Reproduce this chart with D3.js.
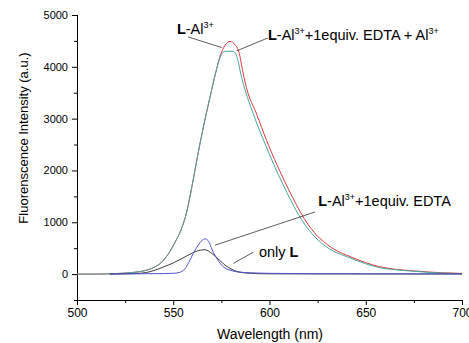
<!DOCTYPE html>
<html><head><meta charset="utf-8">
<script src="https://cdn.jsdelivr.net/npm/d3@7"></script>
<style>body{margin:0;background:#fff}svg{display:block}text{font-family:"Liberation Sans",Arial,sans-serif;fill:#000}</style>
</head><body><svg id="c" width="469" height="343"></svg>
<script>
// Data (wavelength nm, intensity a.u.)
const redWl  = [500,510,520,530,535,540,544,548,551,554,557,560,563,566,569,572,574.3,577,579.5,582,584,586.4,588,593.3,598.5,604,608,612,616,620,624,628,632,636,640,645,650,657,665,675,683,690,700];
const redVal = [0,0,10,35,65,130,230,420,620,850,1200,1750,2350,2900,3400,3880,4200,4420,4490,4430,4300,3860,3600,3090,2577,2100,1780,1480,1200,960,770,630,515,430,365,290,220,145,95,62,40,25,12];
const tealWl  = [500,510,520,530,535,540,544,548,551,554,557,560,563,566,569,572,574.3,577,581,583,585.5,591.6,597.7,603,607,611,615,619,623,627,631,635,640,645,650,657,665,675,683,690,700];
const tealVal = [0,0,10,35,65,130,230,420,620,850,1200,1750,2350,2900,3400,3880,4180,4300,4300,4200,3795,3090,2513,2050,1730,1430,1150,920,740,600,490,410,340,265,200,125,85,55,32,20,8];
const blueWl  = [517,530,545,550,553,556,558,560.4,563,565,566.5,568,570.8,573,576,580,583,590,600,620,650,700];
const blueVal = [0,5,10,15,30,100,220,400,560,650,680,650,420,280,140,70,45,25,15,8,5,3];
const blackWl  = [517,530,536,540,545,550,554,558,562,566.5,570,574,577,580,584,590,600,650,700];
const blackVal = [0,10,30,70,140,215,290,370,440,470,400,270,170,100,40,15,5,3,2];
const xTicks = [500,550,600,650,700];
const yTicks = [0,1000,2000,3000,4000,5000];

const svg = d3.select("#c");
const x = d3.scaleLinear().domain([500,700]).range([77,462]);
const y = d3.scaleLinear().domain([-500,5000]).range([300,15]);

// axes
const xAxis = d3.axisBottom(x).tickValues(xTicks).tickFormat(d3.format("d")).tickSize(5).tickPadding(3);
const gx = svg.append("g").attr("transform","translate(0,300)").call(xAxis);
gx.selectAll(".tick text").style("font-size","12px").style("font-family","Liberation Sans, Arial, sans-serif");
svg.append("g").attr("transform","translate(0,300)")
  .call(d3.axisBottom(x).tickValues(d3.range(525,700,50)).tickFormat("").tickSize(3))
  .select(".domain").remove();
const yAxis = d3.axisLeft(y).tickValues(yTicks).tickFormat(d3.format("d")).tickSize(5).tickPadding(4);
const gy = svg.append("g").attr("transform","translate(77,0)").call(yAxis);
gy.selectAll(".tick text").style("font-size","11px").style("font-family","Liberation Sans, Arial, sans-serif");
svg.append("g").attr("transform","translate(77,0)")
  .call(d3.axisLeft(y).tickValues(d3.range(-500,5000,1000)).tickFormat("").tickSize(3))
  .select(".domain").remove();
gx.select(".domain").attr("d","M77,0.5H462");
gy.select(".domain").attr("d","M0.5,15V300");

svg.append("text").attr("x",270).attr("y",339).attr("text-anchor","middle").style("font-size","14px").text("Wavelength (nm)");
svg.append("text").attr("transform","translate(28,138) rotate(-90)").attr("text-anchor","middle").style("font-size","13px").text("Fluorenscence Intensity (a.u.)");

// lines
const line = d3.line().x(d=>x(d[0])).y(d=>y(d[1])).curve(d3.curveMonotoneX);
const series = [
  [redWl, redVal, "#e5383c"],
  [tealWl, tealVal, "#43a6a2"],
  [blackWl, blackVal, "#3c3c3c"],
  [blueWl, blueVal, "#5252cc"]
];
series.forEach(([w,v,c]) => {
  svg.append("path").datum(d3.zip(w,v)).attr("fill","none").attr("stroke",c).attr("stroke-width",1).attr("d",line);
});

// annotations (positions in data units)
const annText = [
  {wl:551.9, v:4635, parts:[["L",true],["-Al",false],["3+","sup"]]},
  {wl:599.2, v:4519, parts:[["L",true],["-Al",false],["3+","sup"],["+1equiv. EDTA + Al",false],["3+","sup"]]},
  {wl:625.3, v:1308, parts:[["L",true],["-Al",false],["3+","sup"],["+1equiv. EDTA",false]]},
  {wl:594.5, v:327, parts:[["only ",false],["L",true]]}
];
const annLines = [
  [557.7,4577,575.2,4371],
  [599.2,4558,583.0,4308],
  [623.6,1198,571.7,558],
  [591.6,423,581.2,206]
];
annLines.forEach(l => svg.append("line").attr("x1",x(l[0])).attr("y1",y(l[1])).attr("x2",x(l[2])).attr("y2",y(l[3])).attr("stroke","#333").attr("stroke-width",0.8));
annText.forEach(a => {
  const t = svg.append("text").attr("x",x(a.wl)).attr("y",y(a.v)).style("font-size","14.5px");
  let prevSup = false;
  a.parts.forEach(([s,k]) => {
    const ts = t.append("tspan").text(s);
    if (k===true) ts.style("font-weight","bold");
    if (k==="sup") { ts.style("font-size","9px").attr("dy","-6"); prevSup = true; }
    else { if (prevSup) ts.attr("dy","6"); prevSup = false; }
  });
});
</script></body></html>
